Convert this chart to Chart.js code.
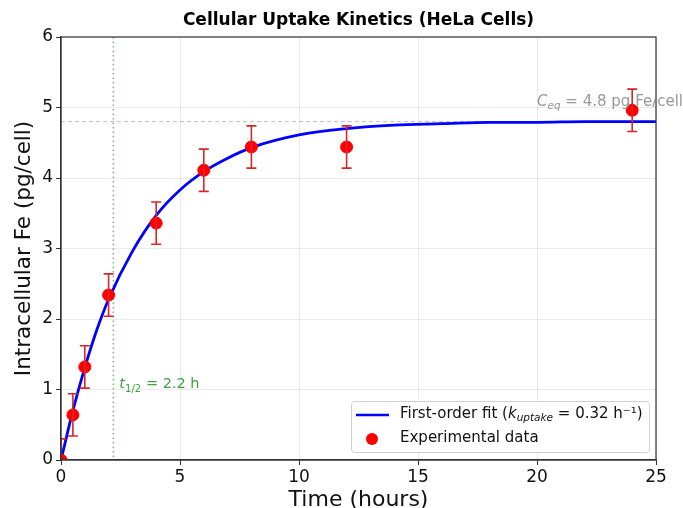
<!DOCTYPE html>
<html>
<head>
<meta charset="utf-8">
<script src="https://cdn.jsdelivr.net/npm/chart.js@4/dist/chart.umd.min.js"></script>
<style>
  html, body { margin: 0; padding: 0; background: #fff; }
  #wrap { width: 683px; height: 508px; }
</style>
</head>
<body>
<div id="wrap"><canvas id="uptakeChart" width="683" height="508"></canvas></div>
<script>
const timePoints = [0, 0.5, 1, 2, 4, 6, 8, 12, 24];
const feValues = [0, 0.64, 1.32, 2.34, 3.36, 4.11, 4.44, 4.44, 4.96];
const feErrors = [0.3, 0.3, 0.3, 0.3, 0.3, 0.3, 0.3, 0.3, 0.3];

// Fitted curve
const fitTimes = [0, 0.5, 1, 1.5, 2, 3, 4, 5, 6, 7, 8, 10, 12, 14, 16, 18, 20, 22, 25];
const fitValues = [0, 0.70, 1.31, 1.84, 2.28, 2.96, 3.47, 3.83, 4.09, 4.28, 4.43, 4.61, 4.70, 4.75, 4.77, 4.79, 4.79, 4.80, 4.80];

// Reference lines
const halfLife = 2.2;
const cEq = 4.8;

const xTicks = [0, 5, 10, 15, 20, 25];
const yTicks = [0, 1, 2, 3, 4, 5, 6];

const FONT = "'DejaVu Sans', sans-serif";

// Draws text runs: [{t, italic, sub}]
function drawRuns(ctx, runs, x, y, size, color) {
    ctx.save();
    ctx.fillStyle = color;
    ctx.textBaseline = 'middle';
    ctx.textAlign = 'left';
    let cx = x;
    runs.forEach(r => {
        const s = r.sub ? size * 0.7 : size;
        ctx.font = (r.italic ? 'italic ' : '') + s + 'px ' + FONT;
        ctx.fillText(r.t, cx, r.sub ? y + size * 0.3 : y);
        cx += ctx.measureText(r.t).width;
    });
    ctx.restore();
    return cx - x;
}

const extrasPlugin = {
    id: 'extras',
    beforeDatasetsDraw(chart) {
        const { ctx, chartArea: a, scales: { x, y } } = chart;
        ctx.save();
        // half-life dotted line
        ctx.strokeStyle = 'rgba(0,128,0,0.55)';
        ctx.lineWidth = 1.5;
        ctx.setLineDash([1.5, 3]);
        ctx.beginPath();
        ctx.moveTo(x.getPixelForValue(halfLife), a.top);
        ctx.lineTo(x.getPixelForValue(halfLife), a.bottom);
        ctx.stroke();
        // equilibrium dashed line
        ctx.strokeStyle = 'rgba(128,128,128,0.5)';
        ctx.lineWidth = 1;
        ctx.setLineDash([4, 3]);
        ctx.beginPath();
        ctx.moveTo(a.left, y.getPixelForValue(cEq));
        ctx.lineTo(a.right, y.getPixelForValue(cEq));
        ctx.stroke();
        ctx.restore();
    },
    afterDatasetsDraw(chart) {
        const { ctx, chartArea: a, scales: { x, y } } = chart;
        // error bars
        ctx.save();
        ctx.beginPath();
        ctx.rect(a.left, a.top, a.right - a.left, a.bottom - a.top);
        ctx.clip();
        ctx.strokeStyle = '#d62728';
        ctx.lineWidth = 1.6;
        timePoints.forEach((t, i) => {
            const px = x.getPixelForValue(t);
            const top = y.getPixelForValue(feValues[i] + feErrors[i]);
            const bot = y.getPixelForValue(feValues[i] - feErrors[i]);
            ctx.beginPath();
            ctx.moveTo(px, top); ctx.lineTo(px, bot);
            ctx.moveTo(px - 5, top); ctx.lineTo(px + 5, top);
            ctx.moveTo(px - 5, bot); ctx.lineTo(px + 5, bot);
            ctx.stroke();
        });
        ctx.restore();
    },
    afterDraw(chart) {
        const { ctx, chartArea: a, scales: { x, y } } = chart;
        ctx.save();
        // frame
        ctx.strokeStyle = '#333';
        ctx.lineWidth = 1.2;
        ctx.strokeRect(a.left, a.top, a.right - a.left, a.bottom - a.top);
        // title
        ctx.fillStyle = '#000';
        ctx.font = 'bold 17px ' + FONT;
        ctx.textAlign = 'center';
        ctx.textBaseline = 'middle';
        ctx.fillText('Cellular Uptake Kinetics (HeLa Cells)', (a.left + a.right) / 2, 21);
        ctx.restore();

        // annotations
        drawRuns(ctx, [{ t: 't', italic: true }, { t: '1/2', sub: true }, { t: ' = 2.2 h' }],
            x.getPixelForValue(2.45), y.getPixelForValue(1.07), 14.5, 'rgba(0,128,0,0.75)');
        drawRuns(ctx, [{ t: 'C', italic: true }, { t: 'eq', italic: true, sub: true }, { t: ' = 4.8 pg Fe/cell' }],
            x.getPixelForValue(20.0), y.getPixelForValue(5.08), 15, 'rgba(128,128,128,0.8)');

        // legend box
        const lx = 351, ly = 401, lw = 298, lh = 51;
        ctx.save();
        ctx.fillStyle = 'rgba(255,255,255,0.85)';
        ctx.strokeStyle = '#d0d0d0';
        ctx.lineWidth = 1;
        ctx.beginPath();
        ctx.roundRect(lx + 0.5, ly + 0.5, lw, lh, 3);
        ctx.fill();
        ctx.stroke();
        ctx.strokeStyle = '#0000ff';
        ctx.lineWidth = 2.5;
        ctx.beginPath();
        ctx.moveTo(356, 415); ctx.lineTo(389, 415);
        ctx.stroke();
        ctx.fillStyle = '#ff0000';
        ctx.beginPath();
        ctx.arc(372, 439, 6, 0, Math.PI * 2);
        ctx.fill();
        ctx.restore();
        drawRuns(ctx, [{ t: 'First-order fit (' }, { t: 'k', italic: true }, { t: 'uptake', italic: true, sub: true },
            { t: ' = 0.32 h\u207B\u00B9)' }], 400, 414, 15, '#111');
        drawRuns(ctx, [{ t: 'Experimental data' }], 400, 438, 15, '#111');
    }
};

new Chart(document.getElementById('uptakeChart'), {
    type: 'scatter',
    data: {
        datasets: [
            {
                label: 'First-order fit',
                data: fitTimes.map((t, i) => ({ x: t, y: fitValues[i] })),
                showLine: true,
                borderColor: '#0000ff',
                borderWidth: 2.8,
                pointRadius: 0,
                cubicInterpolationMode: 'monotone',
                order: 2
            },
            {
                label: 'Experimental data',
                data: timePoints.map((t, i) => ({ x: t, y: feValues[i] })),
                backgroundColor: '#ff0000',
                borderColor: '#ff0000',
                pointRadius: 6,
                clip: 0,
                order: 1
            }
        ]
    },
    options: {
        responsive: false,
        animation: false,
        devicePixelRatio: 1,
        layout: { padding: { top: 37, right: 27, left: 0, bottom: 0 } },
        plugins: {
            legend: { display: false },
            tooltip: { enabled: false }
        },
        scales: {
            x: {
                type: 'linear',
                min: 0,
                max: 25,
                afterBuildTicks: axis => { axis.ticks = xTicks.map(v => ({ value: v })); },
                afterFit: axis => { axis.height = 48; },
                grid: { color: 'rgba(0,0,0,0.08)', tickLength: 5, tickColor: '#333' },
                border: { color: '#333', width: 1.2 },
                ticks: { color: '#111', font: { family: FONT, size: 17 }, padding: 2, maxRotation: 0 },
                title: { display: true, text: 'Time (hours)', color: '#111', font: { family: FONT, size: 22 }, padding: { top: 0, bottom: -5 } }
            },
            y: {
                min: 0,
                max: 6,
                afterBuildTicks: axis => { axis.ticks = yTicks.map(v => ({ value: v })); },
                afterFit: axis => { axis.width = 61; },
                grid: { color: 'rgba(0,0,0,0.08)', tickLength: 5, tickColor: '#333' },
                border: { color: '#333', width: 1.2 },
                ticks: { color: '#111', font: { family: FONT, size: 17 }, padding: 3 },
                title: { display: true, text: 'Intracellular Fe (pg/cell)', color: '#111', font: { family: FONT, size: 21.5 }, padding: { top: 12, bottom: 0 } }
            }
        }
    },
    plugins: [extrasPlugin]
});
</script>
</body>
</html>
